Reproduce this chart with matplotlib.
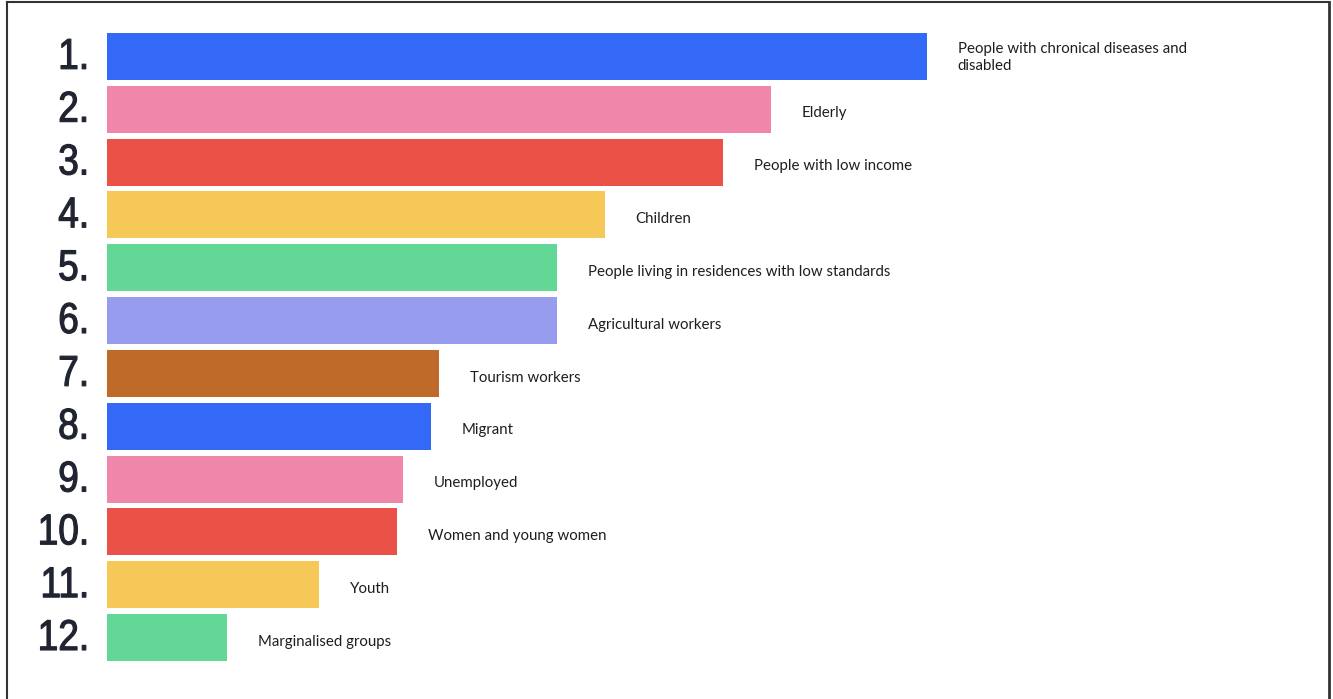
import matplotlib
matplotlib.use("Agg")
import matplotlib.pyplot as plt
from matplotlib.lines import Line2D
from matplotlib.patheffects import AbstractPathEffect
import matplotlib.transforms as mtransforms

# Ranked vulnerable groups (score, higher = ranked higher)
ranks = ["1.", "2.", "3.", "4.", "5.", "6.", "7.", "8.", "9.", "10.", "11.", "12."]
groups = [
    "People with chronical diseases and\ndisabled",
    "Elderly",
    "People with low income",
    "Children",
    "People living in residences with low standards",
    "Agricultural workers",
    "Tourism workers",
    "Migrant",
    "Unemployed",
    "Women and young women",
    "Youth",
    "Marginalised groups",
]
scores = [41.0, 33.2, 30.8, 24.9, 22.5, 22.5, 16.6, 16.2, 14.8, 14.5, 10.6, 6.0]
colors = ["#3469F7", "#F087AA", "#EA5248", "#F5C857", "#63D796", "#989CEE",
          "#BF6A29", "#3469F7", "#F087AA", "#EA5248", "#F5C857", "#63D796"]


class CondensedHeavy(AbstractPathEffect):
    """Squeeze glyphs horizontally (keeping the right edge) and thicken them."""

    def __init__(self, squeeze=0.86, stroke=1.2):
        super().__init__()
        self.squeeze = squeeze
        self.stroke = stroke

    def draw_path(self, renderer, gc, tpath, affine, rgbFace=None):
        ext = tpath.get_extents()
        aff = (mtransforms.Affine2D()
               .translate(-ext.x1, 0)
               .scale(self.squeeze, 1)
               .translate(ext.x1, 0) + affine)
        gc0 = renderer.new_gc()
        gc0.copy_properties(gc)
        gc0.set_linewidth(self.stroke)
        gc0.set_foreground(rgbFace)
        renderer.draw_path(gc0, tpath, aff, rgbFace)
        gc0.restore()


W, H = 1333, 699
fig = plt.figure(figsize=(W / 100, H / 100), dpi=100)
fig.patch.set_facecolor("white")

# axes placed in pixel terms: left edge of bars and vertical band of rows
left_px, right_px = 107, 1333
top_px, bottom_px = 30, 664
ax = fig.add_axes([left_px / W, 1 - bottom_px / H, (right_px - left_px) / W, (bottom_px - top_px) / H])
ax.set_xlim(0, (right_px - left_px) / 20)
ax.set_ylim(len(scores) - 0.5, -0.5)
ax.axis("off")

y = list(range(len(scores)))
ax.barh(y, scores, height=0.89, color=colors, left=0)

heavy = [CondensedHeavy(0.86, 0.85)]
for i, (s, g, r) in enumerate(zip(scores, groups, ranks)):
    # group name just past the end of the bar
    ax.annotate(g, xy=(s, i), xytext=(22, -3 if "\n" not in g else -1),
                textcoords="offset points", va="center", ha="left",
                fontsize=10.8, family="Lato", color="#1E1E1E", linespacing=1.3)
    # large rank number left of the bar
    ax.annotate(r, xy=(0, i), xytext=(-12.6, -1), textcoords="offset points",
                va="center", ha="right", fontsize=31, family="Liberation Sans",
                color="#1F2430", path_effects=heavy)

# frame around the figure (left, top, right)
lc = "#333333"
fig.add_artist(Line2D([7 / W, 7 / W], [0, 1 - 2 / H], transform=fig.transFigure, color=lc, lw=1.5))
fig.add_artist(Line2D([7 / W, 1329 / W], [1 - 2 / H, 1 - 2 / H], transform=fig.transFigure, color=lc, lw=1.5))
fig.add_artist(Line2D([1329 / W, 1329 / W], [0, 1 - 2 / H], transform=fig.transFigure, color=lc, lw=2))

fig.savefig("out.png", dpi=100, facecolor="white")
